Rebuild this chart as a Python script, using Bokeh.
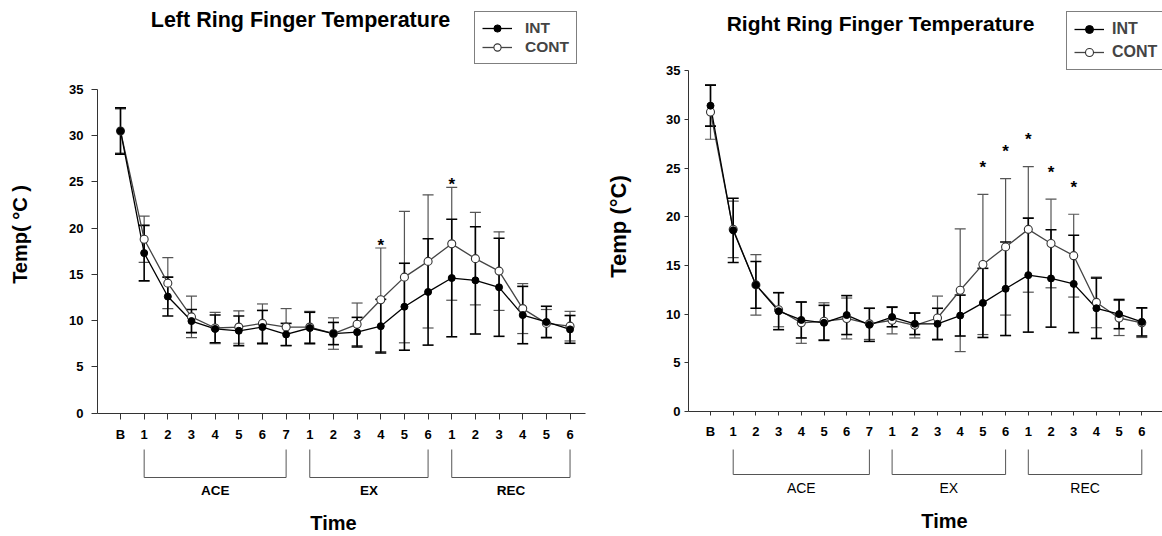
import math
from bokeh.plotting import figure
from bokeh.layouts import row
from bokeh.models import (ColumnDataSource, Whisker, TeeHead, FixedTicker,
                          LinearAxis, Legend, LegendItem, Range1d)
from bokeh.core.properties import value
from bokeh.embed import file_html
from bokeh.resources import INLINE

# ---------------- data ----------------
time_labels = ["B", "1", "2", "3", "4", "5", "6", "7",
               "1", "2", "3", "4", "5", "6",
               "1", "2", "3", "4", "5", "6"]
phase_names = ["ACE", "EX", "REC"]
phase_first = [1, 8, 14]
phase_last = [7, 13, 19]
y_ticks = [0, 5, 10, 15, 20, 25, 30, 35]
series_names = ["INT", "CONT"]

left_int = [30.5, 17.3, 12.6, 9.95, 9.1, 8.9, 9.3, 8.5, 9.2, 8.6,
            8.75, 9.4, 11.5, 13.1, 14.6, 14.35, 13.6, 10.6, 9.85, 9.05]
left_int_sd = [2.5, 3.0, 2.1, 1.25, 1.5, 1.6, 1.8, 1.2, 1.7, 1.2,
               1.6, 2.9, 4.7, 5.75, 6.35, 5.8, 5.3, 3.1, 1.7, 1.5]
left_cont = [30.5, 18.8, 14.05, 10.4, 9.2, 9.3, 9.7, 9.3, 9.3, 8.6,
             9.6, 12.25, 14.7, 16.4, 18.3, 16.7, 15.35, 11.3, 9.7, 9.4]
left_cont_sd = [2.4, 2.5, 2.75, 2.25, 1.7, 1.75, 2.1, 2.0, 1.7, 1.7,
                2.3, 5.6, 7.1, 7.2, 6.1, 5.0, 4.25, 2.7, 1.5, 1.6]
left_stars = [11, 14]

right_int = [31.4, 18.6, 13.0, 10.3, 9.4, 9.1, 9.9, 8.9, 9.7, 9.0,
             9.0, 9.85, 11.15, 12.6, 14.0, 13.66, 13.1, 10.6, 10.0, 9.2]
right_int_sd = [2.1, 3.3, 2.4, 1.9, 1.85, 1.8, 2.0, 1.7, 1.0, 1.1,
                1.6, 2.1, 3.55, 4.8, 5.85, 5.0, 5.0, 3.1, 1.5, 1.45]
right_cont = [30.75, 18.7, 13.0, 10.45, 9.1, 9.26, 9.55, 9.0, 9.37, 8.85,
              9.6, 12.45, 15.1, 16.9, 18.7, 17.25, 16.0, 11.2, 9.6, 9.1]
right_cont_sd = [2.8, 2.9, 3.1, 1.75, 2.1, 1.9, 2.1, 1.6, 1.4, 1.3,
                 2.25, 6.3, 7.2, 7.0, 6.45, 4.55, 4.25, 2.6, 1.8, 1.5]
right_stars = [12, 13, 14, 15, 16]

SANS = "Liberation Sans"
FIG_H = 536


def make_panel(title, ylabel, int_mean, int_sd, cont_mean, cont_sd,
               stars, star_gap, g):
    W, H, top = g["width"], FIG_H, 0
    left = g["left"]
    bx, dx, zy, ppu = g["b_px"], g["dx"], g["zero_px"], g["ppu"]

    def X(px):
        return (px - bx) / dx

    def Y(py):
        return (zy - py) / ppu

    p = figure(width=W, height=H, output_backend="svg", toolbar_location=None,
               x_range=Range1d(X(left), X(left + W)),
               y_range=Range1d(Y(top + H), Y(top)),
               x_axis_location=None, y_axis_location=None,
               min_border=0, outline_line_color=None,
               background_fill_color="white", border_fill_color="white")
    p.grid.visible = False

    idx = list(range(len(time_labels)))
    src = ColumnDataSource(dict(
        x=idx,
        im=int_mean,
        ilo=[m - s for m, s in zip(int_mean, int_sd)],
        ihi=[m + s for m, s in zip(int_mean, int_sd)],
        cm=cont_mean,
        clo=[m - s for m, s in zip(cont_mean, cont_sd)],
        chi=[m + s for m, s in zip(cont_mean, cont_sd)],
    ))

    # axes
    xa = LinearAxis(fixed_location=0,
                    bounds=(X(g["axis_px"]), X(g["xend_px"])),
                    ticker=FixedTicker(ticks=idx, minor_ticks=[]),
                    major_label_overrides={i: t for i, t in enumerate(time_labels)})
    ya = LinearAxis(fixed_location=X(g["axis_px"]), bounds=(0, 35),
                    ticker=FixedTicker(ticks=y_ticks, minor_ticks=[]))
    for ax in (xa, ya):
        ax.axis_line_color = "#333333"
        ax.axis_line_width = 1
        ax.major_tick_line_color = "#333333"
        ax.minor_tick_line_color = None
        ax.major_tick_in = 0
        ax.major_tick_out = g["tick_out"]
        ax.major_label_text_font = SANS
        ax.major_label_text_font_style = "bold"
        ax.major_label_text_font_size = g["tick_size"]
        ax.major_label_text_color = "black"
    xa.major_label_standoff = g["x_standoff"]
    ya.major_label_standoff = g["y_standoff"]
    p.add_layout(xa, "below")
    p.add_layout(ya, "left")

    # error bars
    for lo, hi, col, lw in (("clo", "chi", "#555555", 1.2),
                            ("ilo", "ihi", "#000000", 1.6)):
        p.add_layout(Whisker(base="x", lower=lo, upper=hi, source=src,
                             dimension="height", line_color=col, line_width=lw,
                             upper_head=TeeHead(size=11, line_color=col, line_width=lw),
                             lower_head=TeeHead(size=11, line_color=col, line_width=lw)))

    # series
    l_cont = p.line("x", "cm", source=src, line_color="#444444", line_width=1.3)
    l_int = p.line("x", "im", source=src, line_color="#000000", line_width=1.3)
    s_cont = p.scatter("x", "cm", source=src, size=8, marker="circle",
                       fill_color="white", line_color="#333333", line_width=1.1)
    s_int = p.scatter("x", "im", source=src, size=7, marker="circle",
                      fill_color="black", line_color="black")

    # significance stars
    top_of_bars = [max(a, b) for a, b in zip(src.data["ihi"], src.data["chi"])]
    p.text(x=stars, y=[top_of_bars[i] + star_gap for i in stars],
           text=["*"] * len(stars), text_font=value(SANS), text_font_style="bold",
           text_font_size="17px", text_align="center", text_baseline="middle",
           y_offset=5, text_color="black")

    # phase brackets
    yt, yb = Y(g["br_top"]), Y(g["br_bot"])
    p.multi_line(xs=[[a, a, b, b] for a, b in zip(phase_first, phase_last)],
                 ys=[[yt, yb, yb, yt]] * len(phase_first),
                 line_color="#555555", line_width=1)
    p.text(x=[(a + b) / 2 for a, b in zip(phase_first, phase_last)],
           y=[Y(g["phase_y"])] * len(phase_first), text=phase_names,
           text_font=value(SANS), text_font_style=g["phase_style"],
           text_font_size=g["phase_size"], text_align="center",
           text_baseline="middle", text_color="black")

    # Time label
    p.text(x=[X(g["time_x"])], y=[Y(g["time_y"])], text=["Time"],
           text_font=value(SANS), text_font_style="bold", text_font_size="20px",
           text_align="center", text_baseline="middle", text_color="black")

    # y label
    p.text(x=[X(g["ylab_x"])], y=[Y(g["ylab_y"])], text=[ylabel],
           angle=math.pi / 2, text_font=value(SANS), text_font_style="bold",
           text_font_size=g["ylab_size"], text_align="center",
           text_baseline="middle", text_color="black")

    # title
    p.text(x=[X(g["title_x"])], y=[Y(g["title_y"])], text=[title],
           text_font=value(SANS), text_font_style="bold",
           text_font_size=g["title_size"], text_align="center",
           text_baseline="middle", text_color="black")

    # legend
    legend = Legend(items=[LegendItem(label=series_names[0], renderers=[l_int, s_int]),
                           LegendItem(label=series_names[1], renderers=[l_cont, s_cont])],
                    location=(g["leg_left"] - left, top + H - g["leg_bottom"]),
                    border_line_color="black", border_line_width=1,
                    background_fill_color="white", background_fill_alpha=1,
                    padding=g["leg_pad"], spacing=g["leg_spacing"],
                    label_height=g["leg_lh"], glyph_height=g["leg_lh"],
                    glyph_width=30, label_standoff=g["leg_standoff"],
                    label_text_font=SANS, label_text_font_style="bold",
                    label_text_font_size=g["leg_size"], margin=0)
    p.add_layout(legend)
    return p


left_geom = dict(width=598, left=0, b_px=120, dx=23.66, zero_px=412.6, ppu=9.25,
                 axis_px=97, xend_px=585, tick_out=6,
                 tick_size="13px", x_standoff=8, y_standoff=8,
                 br_top=449, br_bot=477, phase_y=490,
                 phase_style="bold", phase_size="13.5px",
                 time_x=333, time_y=522, ylab_x=19, ylab_y=234, ylab_size="20px",
                 title_x=300, title_y=19, title_size="21.5px",
                 leg_left=474, leg_bottom=64, leg_pad=7, leg_spacing=1, leg_lh=18,
                 leg_standoff=13, leg_size="15.5px")

right_geom = dict(width=564, left=598, b_px=710, dx=22.7, zero_px=411, ppu=9.74,
                  axis_px=688, xend_px=1170, tick_out=4,
                  tick_size="13px", x_standoff=8, y_standoff=4,
                  br_top=449, br_bot=474, phase_y=487,
                  phase_style="normal", phase_size="14px",
                  time_x=944, time_y=520, ylab_x=618, ylab_y=226, ylab_size="22px",
                  title_x=880, title_y=23, title_size="21px",
                  leg_left=1066, leg_bottom=70, leg_pad=7, leg_spacing=3, leg_lh=20,
                  leg_standoff=8, leg_size="16px")

p_left = make_panel("Left Ring Finger Temperature", "Temp( °C )",
                    left_int, left_int_sd, left_cont, left_cont_sd,
                    left_stars, 0.85, left_geom)
p_right = make_panel("Right Ring Finger Temperature", "Temp (°C)",
                     right_int, right_int_sd, right_cont, right_cont_sd,
                     right_stars, 3.3, right_geom)

layout = row(p_left, p_right, spacing=0)
open("out.html", "w").write(file_html(layout, INLINE))
